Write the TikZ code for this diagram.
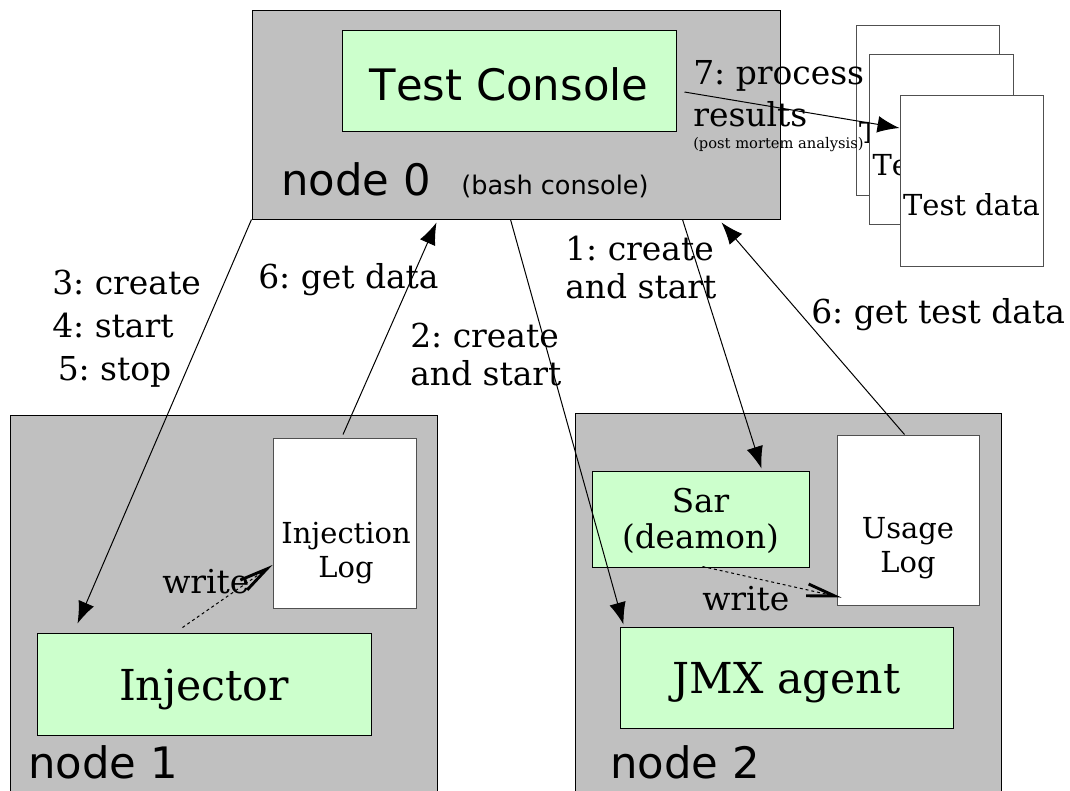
\documentclass[tikz,border=0pt]{standalone}
\usepackage{fontspec}
\setmainfont[Kerning=Off]{DejaVu Serif}
\setsansfont[Kerning=Off]{DejaVu Sans}
\usetikzlibrary{arrows.meta,calc}
\definecolor{boxgray}{HTML}{C0C0C0}
\definecolor{boxgreen}{HTML}{CCFFCC}
\definecolor{docedge}{HTML}{505050}
\newcommand{\fs}[2]{\fontsize{#1}{#2}\selectfont}
\frenchspacing
\tikzset{
  machine/.style={draw=black, fill=boxgray, line width=0.75pt, inner sep=0pt},
  compbox/.style={draw=black, fill=boxgreen, line width=0.75pt, inner sep=0pt, align=center, text depth=0pt},
  docbox/.style={draw=docedge, fill=white, line width=0.75pt, inner sep=0pt},
  txt/.style={inner sep=0pt, anchor=base, align=center},
  lbl/.style={inner sep=0pt, anchor=base west, align=left, font=\fs{24.7pt}{28.5pt}},
  call/.style={line width=0.75pt, -{Latex[length=16.5pt,width=12.5pt]}},
  writeto/.style={line width=0.75pt, dash pattern=on 2.2pt off 2.2pt,
    -{Straight Barb[length=21pt,width=9pt,line width=2.2pt]}},
}
\begin{document}
\begin{tikzpicture}[x=0.75pt,y=-0.75pt]
\useasboundingbox (0,0) rectangle (1070,790);
\clip (0,0) rectangle (1070,790);

% node 0
\node[machine, minimum width=396pt, minimum height=156.75pt] (n0) at (516,114.5) {};
\node[compbox, minimum width=250.5pt, minimum height=75.75pt, text height=29.25pt, font=\sffamily\fs{32.5pt}{39pt}] (tc) at (509,80.5) {Test Console};
\node[inner sep=0pt, anchor=base west, font=\sffamily\fs{32.5pt}{39pt}] (n0lbl) at (281,195) {node 0};
\node[inner sep=0pt, anchor=base west, font=\sffamily\fs{19.2pt}{23pt}] (n0sub) at (461,194) {(bash console)};

% test data stack
\node[docbox, minimum width=107.25pt, minimum height=127.5pt] (d1) at (927.5,110) {};
\node[txt, font=\fs{21.7pt}{26pt}] (d1t) at (927.5,143) {Test data};
\node[docbox, minimum width=108pt, minimum height=127.5pt] (d2) at (941,139) {};
\node[txt, font=\fs{21.7pt}{26pt}] (d2t) at (941,175) {Test data};
\node[docbox, minimum width=107.25pt, minimum height=128.25pt] (d3) at (971.5,180.5) {};
\node[txt, font=\fs{21.7pt}{26pt}] (d3t) at (971.5,215) {Test data};

% node 1
\node[machine, minimum width=320.25pt, minimum height=300pt] (n1) at (223.5,615) {};
\node[docbox, minimum width=107.25pt, minimum height=127.5pt] (ilog) at (344.5,523) {};
\node[txt, font=\fs{21.7pt}{25.5pt}] (ilogt) at (346,577) {Injection\\Log};
\node[compbox, minimum width=250.5pt, minimum height=76.5pt, text height=24pt, font=\fs{32pt}{38pt}] (inj) at (204,684) {Injector};
\node[inner sep=0pt, anchor=base west, font=\sffamily\fs{32.5pt}{39pt}] (n1lbl) at (28,778) {node 1};

% node 2
\node[machine, minimum width=319.5pt, minimum height=300pt] (n2) at (788,613) {};
\node[compbox, minimum width=162.75pt, minimum height=72pt] (sar) at (700.5,519) {};
\node[txt, font=\fs{24.5pt}{27pt}] (sart) at (700.5,548) {Sar\\(deamon)};
\node[docbox, minimum width=106.5pt, minimum height=127.5pt] (ulog) at (908,520) {};
\node[txt, font=\fs{21.7pt}{25.5pt}] (ulogt) at (908,572) {Usage\\Log};
\node[compbox, minimum width=249.75pt, minimum height=75.75pt, text height=23.25pt, font=\fs{32pt}{38pt}] (jmx) at (786.5,677.5) {JMX agent};
\node[inner sep=0pt, anchor=base west, font=\sffamily\fs{32.5pt}{39pt}] (n2lbl) at (610,778) {node 2};

% connectors
\coordinate (injtip) at ($(inj.north west)+(41,-9)$);
\draw[call] (n0.south west) -- (injtip);
\coordinate (n0a) at ($(n0.south west)+(185,3)$);
\draw[call] ($(ilog.north)+(-1.5,-3)$) -- (n0a);
\coordinate (n0b) at ($(n0.south west)+(259,0)$);
\draw[call] (n0b) -- ($(jmx.north west)+(4,-2)$);
\coordinate (n0c) at ($(n0.south west)+(431,0)$);
\draw[call] (n0c) -- ($(sar.north west)+(170,-2)$);
\coordinate (n0d) at ($(n0.south west)+(470,3)$);
\draw[call] ($(ulog.north west)+(68,0)$) -- (n0d);
\coordinate (tcout) at ($(tc.east)+(8,11.5)$);
\draw[call] (tcout) -- ($(d3.west)+(0,-52.5)$);

\draw[writeto] ($(inj.north west)+(146,-5)$) -- ($(ilog.west)+(0,42)$);
\draw[writeto] ($(sar.south west)+(111,-1)$) -- ($(ulog.south west)+(5,-8)$);

% labels
\node[lbl, font=\fs{24.7pt}{32pt}] (l345) at (52,380) {3: create\\4: start\\\,5: stop};
\node[lbl] (l6a) at (258,288) {6: get data};
\node[lbl] (l2) at (410,385) {2: create\\and start};
\node[lbl] (l1) at (565,298) {1: create\\and start};
\node[lbl] (l6b) at (811,323) {6: get test data};
\node[lbl, font=\fs{24.7pt}{32pt}] (l7) at (693,148) {7: process\\results\\[-16.2pt]{\fs{11pt}{13pt}(post mortem analysis)}};
\node[lbl] (w1) at (162,593) {write};
\node[lbl] (w2) at (702,610) {write};
\end{tikzpicture}
\end{document}
